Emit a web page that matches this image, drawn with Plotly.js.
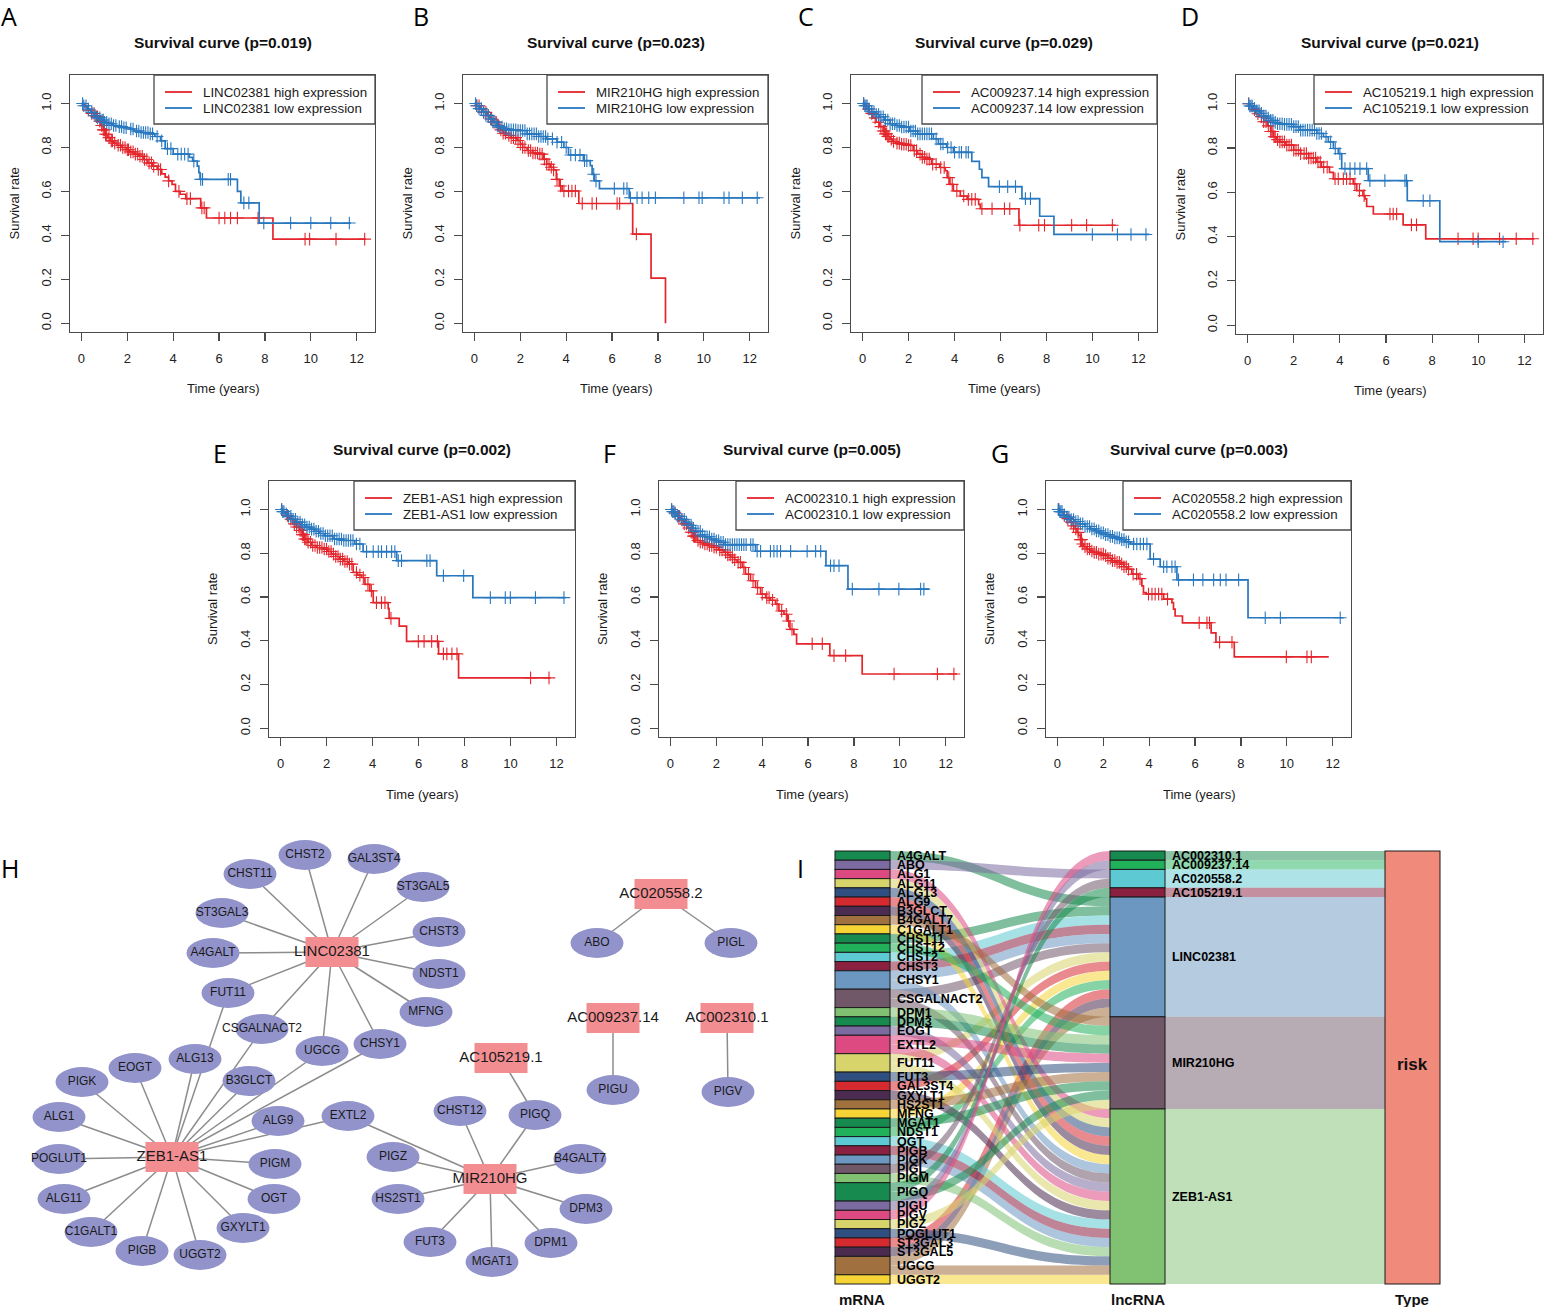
<!DOCTYPE html>
<html><head><meta charset="utf-8">
<script src="https://cdn.plot.ly/plotly-3.0.1.min.js"></script>
<style>html,body{margin:0;padding:0;background:#fff}#chart{width:1544px;height:1307px}</style>
</head><body><div id="chart"></div>
<script>
// ---------------- DATA ----------------
const panelGenes = ['LINC02381','MIR210HG','AC009237.14','AC105219.1','ZEB1-AS1','AC002310.1','AC020558.2'];
const panelPvalues = ['0.019','0.023','0.029','0.021','0.002','0.005','0.003'];
const panelLetters = ['A','B','C','D','E','F','G'];
const timeTicks = [0,2,4,6,8,10,12];
const rateTicks = [0,0.2,0.4,0.6,0.8,1.0];
const rateTickText = ['0.0','0.2','0.4','0.6','0.8','1.0'];

// A: LINC02381
const A_hiT = [0,.15,.3,.45,.6,.75,.85,.95,1.05,1.15,1.25,1.4,1.55,1.75,1.95,2.1,2.3,2.5,2.7,2.9,3.1,3.3,3.5,3.65,3.8,3.95,4.1,4.3,4.55,5.2,5.45,8.35,12.4];
const A_hiS = [1,.985,.97,.955,.94,.92,.9,.88,.86,.845,.83,.82,.81,.80,.79,.78,.77,.76,.745,.73,.715,.70,.68,.665,.648,.632,.60,.587,.567,.525,.479,.383,.383];
const A_hiC = [.3,.45,.55,.65,.7,.8,.88,.95,1.0,1.05,1.1,1.2,1.3,1.35,1.45,1.6,1.7,1.8,1.9,2.0,2.05,2.15,2.25,2.35,2.45,2.55,2.65,2.75,2.85,2.95,3.05,3.15,3.35,3.45,3.8,4.25,4.6,4.75,5.25,5.35,6.0,6.25,6.5,6.8,7.7,9.75,9.95,11.1,12.35];
const A_loT = [0,.1,.25,.4,.55,.7,.85,1.0,1.15,1.35,1.6,1.85,2.1,2.3,2.6,3.0,3.2,3.45,3.65,4.0,4.7,4.85,5.05,5.12,5.17,6.8,6.95,7.75,11.75];
const A_loS = [1,.99,.975,.96,.945,.935,.925,.915,.908,.9,.895,.89,.884,.875,.868,.862,.85,.83,.795,.77,.755,.738,.715,.686,.655,.60,.548,.456,.456];
const A_loC = [.05,.1,.2,.3,.45,.6,.7,.8,.9,.95,1.0,1.1,1.2,1.3,1.4,1.5,1.65,1.75,1.85,1.95,2.15,2.25,2.4,2.5,2.6,2.7,2.8,2.9,3.0,3.1,3.3,3.5,3.75,3.9,4.2,4.35,4.5,4.65,4.9,5.2,5.28,6.4,6.5,7.08,7.3,7.95,9.12,10.0,10.87,11.68];

// B: MIR210HG
const B_hiT = [0,.1,.25,.4,.55,.7,.85,1.0,1.12,1.25,1.4,1.6,1.85,2.0,2.1,2.3,2.55,2.85,3.0,3.15,3.3,3.45,3.57,3.7,3.82,4.55,6.9,7.7,8.33];
const B_hiS = [1,.99,.975,.96,.945,.93,.915,.9,.88,.865,.855,.845,.832,.815,.80,.786,.775,.77,.747,.724,.71,.698,.655,.625,.602,.545,.406,.205,0];
const B_hiC = [.1,.2,.3,.4,.5,.6,.75,.85,.95,1.05,1.15,1.25,1.35,1.5,1.6,1.7,1.8,1.9,2.0,2.1,2.2,2.35,2.45,2.55,2.65,2.75,2.85,2.95,3.05,3.15,3.25,3.35,3.45,3.6,3.75,3.9,4.1,4.25,4.4,4.7,5.13,5.32,6.22,6.33,7.06];
const B_loT = [0,.08,.2,.35,.5,.65,.8,.95,1.1,1.25,1.5,1.85,2.3,2.8,3.15,3.6,3.9,4.1,4.75,5.05,5.13,5.23,5.45,6.75,12.45];
const B_loS = [1,.99,.977,.962,.946,.93,.916,.9,.893,.885,.88,.877,.862,.85,.839,.824,.80,.766,.74,.717,.678,.648,.613,.571,.571];
const B_loC = [.05,.1,.2,.3,.4,.5,.6,.7,.8,.9,1.0,1.1,1.2,1.3,1.4,1.5,1.6,1.7,1.8,1.9,2.0,2.1,2.2,2.3,2.4,2.5,2.6,2.7,2.8,2.9,3.0,3.1,3.2,3.4,3.6,3.8,4.0,4.2,4.4,4.6,4.8,4.9,5.2,5.3,6.1,6.51,6.65,6.8,7.09,7.31,7.6,7.89,9.13,9.79,9.93,10.88,11.1,11.68,12.33];

// C: AC009237.14
const C_hiT = [0,.15,.3,.45,.6,.75,.9,1.0,1.1,1.2,1.3,1.45,1.7,2.0,2.2,2.4,2.6,2.75,3.0,3.35,3.6,3.68,3.8,3.95,4.25,4.55,5.05,5.12,6.8,11.0];
const C_hiS = [1,.975,.955,.935,.915,.895,.875,.862,.85,.838,.828,.82,.815,.809,.786,.77,.755,.747,.724,.709,.694,.663,.632,.602,.579,.564,.541,.521,.446,.446];
const C_hiC = [.05,.25,.4,.55,.7,.8,.9,.95,1.0,1.05,1.1,1.15,1.25,1.35,1.5,1.6,1.7,1.8,1.9,2.0,2.1,2.25,2.35,2.5,2.6,2.7,2.8,2.9,3.05,3.2,3.4,3.55,3.75,3.9,4.1,4.4,4.6,4.75,4.9,5.19,5.63,6.17,6.4,6.84,7.66,7.91,9.09,9.74,10.86];
const C_loT = [0,.1,.25,.4,.55,.75,.95,1.2,1.45,1.65,2.05,2.4,3.08,3.3,3.65,3.95,4.75,5.08,5.19,5.48,6.93,7.7,8.32,12.47];
const C_loS = [1,.99,.975,.962,.95,.94,.925,.908,.9,.893,.875,.862,.839,.816,.80,.778,.737,.701,.663,.622,.567,.487,.404,.404];
const C_loC = [.05,.1,.15,.2,.3,.4,.5,.6,.7,.8,.9,1.0,1.1,1.2,1.3,1.4,1.5,1.6,1.7,1.8,1.9,2.0,2.1,2.2,2.3,2.4,2.5,2.6,2.7,2.8,2.9,3.0,3.2,3.4,3.5,3.7,3.85,4.0,4.2,4.3,4.5,4.6,5.95,6.31,6.65,7.08,7.3,9.99,11.08,11.67,12.32];

// D: AC105219.1
const D_hiT = [0,.1,.2,.35,.5,.7,.85,1.0,1.12,1.25,1.4,1.65,2.0,2.3,2.65,3.0,3.2,3.55,3.72,4.58,4.73,5.0,5.09,5.16,5.45,6.74,7.72,12.43];
const D_hiS = [1,.99,.973,.955,.942,.919,.9,.875,.851,.838,.828,.813,.79,.775,.755,.737,.714,.69,.661,.638,.608,.585,.57,.536,.502,.453,.39,.39];
const D_hiC = [.05,.3,.45,.6,.7,.8,.9,1.0,1.05,1.1,1.15,1.2,1.3,1.4,1.5,1.6,1.7,1.8,1.9,2.0,2.1,2.2,2.3,2.45,2.55,2.65,2.75,2.85,2.95,3.05,3.15,3.3,3.45,3.79,3.93,4.15,4.29,4.44,4.65,4.85,5.05,6.17,6.31,6.46,7.1,7.32,9.12,9.77,9.99,10.92,11.64,12.36];
const D_loT = [0,.1,.26,.4,.55,.7,.84,1.0,1.12,1.3,1.56,1.99,2.28,3.0,3.29,3.5,3.72,3.93,4.08,5.23,6.92,8.33,11.2];
const D_loS = [1,.99,.98,.968,.957,.945,.935,.925,.916,.91,.907,.897,.881,.866,.851,.828,.798,.775,.707,.653,.562,.377,.377];
const D_loC = [.05,.1,.15,.2,.3,.4,.5,.6,.7,.8,.9,1.0,1.1,1.2,1.3,1.4,1.5,1.6,1.7,1.8,1.9,2.0,2.1,2.2,2.3,2.4,2.5,2.6,2.7,2.8,2.9,3.0,3.1,3.2,3.4,3.6,3.8,4.0,4.22,4.44,4.65,4.87,5.16,5.3,5.95,6.82,6.89,7.61,7.9,9.99,11.07];

// E: ZEB1-AS1
const E_hiT = [0,.12,.25,.4,.54,.68,.83,.95,1.05,1.2,1.34,1.55,1.85,2.05,2.21,2.4,2.57,2.75,2.94,3.16,3.35,3.52,3.67,3.88,4.03,4.68,4.72,5.16,5.48,6.87,7.74,11.74];
const E_hiS = [1,.985,.972,.955,.934,.92,.904,.885,.865,.85,.835,.826,.819,.808,.796,.785,.773,.762,.75,.712,.70,.689,.658,.628,.574,.547,.502,.467,.397,.34,.23,.23];
const E_hiC = [.05,.3,.45,.6,.7,.8,.85,.9,.95,1.0,1.05,1.1,1.15,1.2,1.3,1.4,1.5,1.6,1.7,1.8,1.9,2.0,2.1,2.2,2.3,2.4,2.5,2.6,2.7,2.8,2.9,3.0,3.1,3.3,3.45,3.6,3.8,3.95,4.17,4.39,4.54,4.8,5.99,6.24,6.57,6.82,7.08,7.23,7.45,7.67,10.87,11.67];
const E_loT = [0,.1,.2,.32,.5,.68,.9,1.12,1.3,1.48,1.7,1.92,2.28,2.72,3.23,3.59,5.05,6.79,8.36,12.39];
const E_loS = [1,.99,.98,.969,.955,.942,.93,.919,.91,.9,.89,.88,.865,.858,.842,.807,.766,.697,.597,.597];
const E_loC = [.05,.1,.15,.25,.35,.45,.55,.65,.75,.85,.95,1.05,1.15,1.25,1.35,1.45,1.55,1.65,1.75,1.85,1.95,2.05,2.15,2.25,2.35,2.45,2.55,2.65,2.75,2.85,2.95,3.05,3.15,3.3,3.45,3.74,4.03,4.25,4.39,4.61,4.83,4.97,5.12,5.26,6.36,6.5,7.08,7.96,9.12,9.77,9.99,11.08,12.32];

// F: AC002310.1
const F_hiT = [0,.1,.22,.4,.58,.72,.87,1.0,1.16,1.3,1.45,1.65,1.89,2.1,2.33,2.5,2.62,2.8,2.91,3.13,3.27,3.49,3.71,3.93,4.15,4.35,4.58,4.73,4.95,5.09,5.21,5.38,5.5,6.95,8.36,12.5];
const F_hiS = [1,.985,.969,.952,.934,.915,.896,.878,.858,.85,.842,.835,.827,.815,.804,.792,.781,.77,.758,.735,.704,.674,.643,.613,.597,.585,.567,.536,.521,.49,.452,.429,.386,.332,.248,.248];
const F_hiC = [.05,.2,.35,.5,.6,.7,.8,.9,.95,1.0,1.05,1.1,1.2,1.3,1.4,1.5,1.6,1.7,1.8,1.9,2.0,2.15,2.25,2.4,2.5,2.6,2.7,2.8,2.95,3.05,3.2,3.4,3.6,3.8,4.0,4.2,4.3,4.45,4.65,4.85,5.05,5.15,5.3,6.18,6.62,7.13,7.64,9.75,11.64,12.36];
const F_loT = [0,.1,.18,.29,.45,.65,.8,.95,1.1,1.31,1.5,1.75,1.95,2.11,2.33,3.71,6.78,7.74,11.27];
const F_loS = [1,.99,.98,.969,.955,.942,.928,.914,.9,.884,.875,.865,.857,.85,.839,.809,.743,.636,.636];
const F_loC = [.05,.1,.15,.2,.3,.4,.5,.6,.7,.8,.9,1.0,1.1,1.2,1.3,1.4,1.5,1.6,1.7,1.8,1.9,2.0,2.1,2.2,2.3,2.4,2.5,2.6,2.7,2.8,2.9,3.0,3.1,3.2,3.3,3.5,3.6,3.78,3.93,4.36,4.51,4.65,4.8,5.24,5.96,6.33,6.55,6.98,7.13,7.35,7.93,9.09,9.96,10.91,11.05];

// G: AC020558.2
const G_hiT = [0,.1,.26,.4,.55,.68,.77,.85,.92,1.0,1.06,1.15,1.28,1.45,1.57,1.8,2.01,2.2,2.37,2.55,2.73,2.9,3.03,3.24,3.53,3.68,3.75,3.87,4.63,4.99,5.06,5.13,5.45,6.7,6.91,7.71,11.83];
const G_hiS = [1,.99,.972,.958,.942,.925,.911,.895,.881,.862,.842,.83,.819,.81,.804,.796,.789,.777,.766,.758,.75,.738,.727,.704,.684,.651,.62,.613,.59,.574,.544,.513,.482,.436,.393,.326,.326];
const G_hiC = [.05,.3,.45,.6,.7,.8,.9,1.0,1.05,1.1,1.2,1.3,1.4,1.5,1.6,1.7,1.8,1.9,2.0,2.1,2.2,2.3,2.4,2.5,2.6,2.7,2.8,2.9,3.0,3.1,3.3,3.45,3.6,3.97,4.12,4.26,4.41,4.55,4.8,6.18,6.52,6.63,7.07,7.61,9.98,10.88,11.07];
const G_loT = [0,.1,.26,.4,.55,.75,.99,1.2,1.43,1.65,1.86,2.1,2.3,2.5,2.73,2.95,3.17,4.04,4.48,5.21,8.31,12.48];
const G_loS = [1,.99,.975,.965,.954,.945,.934,.922,.911,.902,.893,.885,.877,.87,.862,.852,.842,.773,.738,.678,.505,.505];
const G_loC = [.03,.06,.1,.15,.2,.3,.4,.5,.6,.7,.8,.9,1.0,1.1,1.2,1.3,1.4,1.5,1.6,1.7,1.8,1.9,2.0,2.1,2.2,2.3,2.4,2.5,2.6,2.7,2.8,2.9,3.0,3.1,3.32,3.46,3.61,3.75,3.9,4.19,4.63,4.77,4.99,5.13,5.28,5.93,6.34,6.81,7.1,7.35,7.9,9.06,9.72,12.33];

// Network (H)
const lncNames = ['AC002310.1','AC009237.14','AC020558.2','AC105219.1','LINC02381','MIR210HG','ZEB1-AS1'];
const mrnaNames = ['A4GALT','ABO','ALG1','ALG11','ALG13','ALG9','B3GLCT','B4GALT7','C1GALT1','CHST11','CHST12','CHST2','CHST3','CHSY1','CSGALNACT2','DPM1','DPM3','EOGT','EXTL2','FUT11','FUT3','GAL3ST4','GXYLT1','HS2ST1','MFNG','MGAT1','NDST1','OGT','PIGB','PIGK','PIGL','PIGM','PIGQ','PIGU','PIGV','PIGZ','POGLUT1','ST3GAL3','ST3GAL5','UGCG','UGGT2'];
const edgeLnc  = ['LINC02381','LINC02381','LINC02381','LINC02381','LINC02381','LINC02381','LINC02381','LINC02381','LINC02381','LINC02381','LINC02381','LINC02381','LINC02381',
  'ZEB1-AS1','ZEB1-AS1','ZEB1-AS1','ZEB1-AS1','ZEB1-AS1','ZEB1-AS1','ZEB1-AS1','ZEB1-AS1','ZEB1-AS1','ZEB1-AS1','ZEB1-AS1','ZEB1-AS1','ZEB1-AS1','ZEB1-AS1','ZEB1-AS1','ZEB1-AS1','ZEB1-AS1','ZEB1-AS1','ZEB1-AS1',
  'MIR210HG','MIR210HG','MIR210HG','MIR210HG','MIR210HG','MIR210HG','MIR210HG','MIR210HG','MIR210HG','MIR210HG',
  'AC105219.1','AC020558.2','AC020558.2','AC009237.14','AC002310.1'];
const edgeMrna = ['CHST11','CHST2','GAL3ST4','ST3GAL5','ST3GAL3','CHST3','A4GALT','NDST1','FUT11','MFNG','CSGALNACT2','UGCG','CHSY1',
  'PIGK','EOGT','ALG1','POGLUT1','ALG11','C1GALT1','PIGB','UGGT2','GXYLT1','OGT','PIGM','ALG9','EXTL2','CHSY1','UGCG','B3GLCT','CSGALNACT2','ALG13','FUT11',
  'EXTL2','PIGZ','HS2ST1','FUT3','MGAT1','DPM1','DPM3','B4GALT7','PIGQ','CHST12',
  'PIGQ','ABO','PIGL','PIGU','PIGV'];
// network layout coordinates (layout positions of the drawn graph)
const netNames = ['LINC02381','ZEB1-AS1','MIR210HG','AC105219.1','AC020558.2','AC009237.14','AC002310.1',
  'CHST2','GAL3ST4','CHST11','ST3GAL5','ST3GAL3','CHST3','A4GALT','NDST1','FUT11','MFNG','CSGALNACT2','UGCG','CHSY1',
  'ALG13','EOGT','B3GLCT','PIGK','ALG1','ALG9','EXTL2','POGLUT1','PIGM','OGT','ALG11','GXYLT1','C1GALT1','PIGB','UGGT2',
  'CHST12','PIGQ','PIGZ','B4GALT7','HS2ST1','DPM3','FUT3','DPM1','MGAT1','ABO','PIGL','PIGU','PIGV'];
const netX = [332,172,490,501,661,613,727,
  305,374,250,423,222,439,213,439,228,426,262,322,380,
  195,135,249,82,59,278,348,59,275,274,64,243,91,142,200,
  460,535,393,580,398,586,430,551,492,597,731,613,728];
const netY = [952,1157,1179,1058,894,1018,1018,
  855,859,874,887,913,932,953,974,993,1012,1029,1051,1044,
  1059,1068,1081,1082,1117,1121,1116,1159,1164,1199,1199,1228,1232,1251,1255,
  1111,1115,1157,1159,1199,1209,1242,1243,1262,943,943,1090,1092];

// Sankey colours
const palette16 = ['#178a4f','#7b6ba1','#dd4a82','#d8d46c','#2f4f80','#d62a31','#4b2b50','#a0703f','#f6d436','#178a4f','#22b15b','#5dc9d2','#8a2141','#6b97c1','#705869','#80c172'];
const lncColors = ['#178a4f','#22b15b','#5dc9d2','#8a2141','#6b97c1','#705869','#80c172'];
const riskColor = '#f08a7a';

// ---------------- DRAWING ----------------
const W = 1544, H = 1307;
const px = x => x / W, py = y => 1 - y / H;
const RED = '#e4262c', BLUE = '#2878c0';
const FONT = 'Liberation Sans, Arial, sans-serif';
const LETTER_FONT = {family:'Open Sans, Liberation Sans, sans-serif', size:25, color:'#000'};

const panels = [
  {hiT:A_hiT,hiS:A_hiS,hiC:A_hiC,loT:A_loT,loS:A_loS,loC:A_loC, box:[70,375,75,332], legW:221, letter:[9,16]},
  {hiT:B_hiT,hiS:B_hiS,hiC:B_hiC,loT:B_loT,loS:B_loS,loC:B_loC, box:[463,768,75,332], legW:221, letter:[421,16]},
  {hiT:C_hiT,hiS:C_hiS,hiC:C_hiC,loT:C_loT,loS:C_loS,loC:C_loC, box:[851,1157,75,332], legW:235, letter:[806,16]},
  {hiT:D_hiT,hiS:D_hiS,hiC:D_hiC,loT:D_loT,loS:D_loS,loC:D_loC, box:[1236,1543,75,334], legW:229, letter:[1190,16]},
  {hiT:E_hiT,hiS:E_hiS,hiC:E_hiC,loT:E_loT,loS:E_loS,loC:E_loC, box:[269,575,481,737], legW:221, letter:[220,453]},
  {hiT:F_hiT,hiS:F_hiS,hiC:F_hiC,loT:F_loT,loS:F_loS,loC:F_loC, box:[659,964,481,737], legW:228, letter:[609,453]},
  {hiT:G_hiT,hiS:G_hiS,hiC:G_hiC,loT:G_loT,loS:G_loS,loC:G_loC, box:[1046,1351,481,737], legW:228, letter:[1000,453]}
];

function stepAt(T, S, t) { let v = S[0]; for (let i = 0; i < T.length; i++) { if (T[i] <= t) v = S[i]; else break; } return v; }

const data = [], shapes = [], annotations = [];
const layout = {
  width: W, height: H, margin: {l:0, r:0, t:0, b:0}, paper_bgcolor: '#fff', plot_bgcolor: '#fff',
  showlegend: false, font: {family: FONT, color: '#222'}, shapes: shapes, annotations: annotations, hovermode: false
};
function ann(x, y, text, size, opts) {
  annotations.push(Object.assign({xref:'paper', yref:'paper', x:px(x), y:py(y), text:text, showarrow:false,
    font:{family:FONT, size:size, color:'#1a1a1a'}, xanchor:'center', yanchor:'middle'}, opts || {}));
}

panels.forEach((p, i) => {
  const n = i === 0 ? '' : String(i + 1);
  const xa = 'x' + n, ya = 'y' + n;
  [[p.hiT, p.hiS, p.hiC, RED], [p.loT, p.loS, p.loC, BLUE]].forEach(([T, S, C, col]) => {
    data.push({type:'scatter', mode:'lines', x:T, y:S, xaxis:xa, yaxis:ya, line:{shape:'hv', color:col, width:1.7}, hoverinfo:'skip'});
    data.push({type:'scatter', mode:'markers', x:C, y:C.map(t => stepAt(T, S, t)), xaxis:xa, yaxis:ya,
      marker:{symbol:'cross-thin', size:9, color:col, line:{color:col, width:1.1}}, hoverinfo:'skip'});
  });
  const [l, r, t, b] = p.box;
  const axBase = {showgrid:false, zeroline:false, showline:true, mirror:true, linecolor:'#4a4a4a', linewidth:1.3,
    ticks:'outside', ticklen:8, tickwidth:1.2, tickcolor:'#4a4a4a', fixedrange:true,
    tickfont:{family:FONT, size:13, color:'#222'}};
  layout['xaxis' + n] = Object.assign({}, axBase, {domain:[px(l), px(r)], range:[-0.5, 12.8], anchor:ya,
    tickmode:'array', tickvals:timeTicks, ticktext:timeTicks.map(String), ticklabelstandoff:6});
  layout['yaxis' + n] = Object.assign({}, axBase, {domain:[py(b), py(t)], range:[-0.04, 1.13], anchor:xa,
    tickmode:'array', tickvals:rateTicks, ticktext:rateTickText, tickangle:-90, ticklabelstandoff:5});
  const cx = (l + r) / 2;
  ann(cx, t - 32, '<b>Survival curve (p=' + panelPvalues[i] + ')</b>', 15.5, {font:{family:FONT, size:15.5, color:'#111'}});
  ann(cx, b + 57, 'Time (years)', 13);
  ann(l - 56, (t + b) / 2, 'Survival rate', 13, {textangle:-90});
  ann(p.letter[0], p.letter[1], panelLetters[i], 25, {font:LETTER_FONT});
  // legend box
  const ll = r - p.legW;
  shapes.push({type:'rect', xref:'paper', yref:'paper', x0:px(ll), x1:px(r), y0:py(t + 49), y1:py(t), line:{color:'#4a4a4a', width:1.3}, fillcolor:'#fff', layer:'above'});
  [[RED, 'high expression', 17], [BLUE, 'low expression', 33]].forEach(([col, lab, dy]) => {
    shapes.push({type:'line', xref:'paper', yref:'paper', x0:px(ll + 11), x1:px(ll + 38), y0:py(t + dy), y1:py(t + dy), line:{color:col, width:1.8}, layer:'above'});
    ann(ll + 47, t + dy, panelGenes[i] + ' ' + lab, 13.3, {xanchor:'left'});
  });
});

// ---- Network H ----
layout.xaxis8 = {domain:[0, px(800)], range:[0, 800], visible:false, fixedrange:true, anchor:'y8'};
layout.yaxis8 = {domain:[0, py(830)], range:[H, 830], visible:false, fixedrange:true, anchor:'x8'};
const nodeIdx = name => netNames.indexOf(name);
edgeLnc.forEach((lnc, k) => {
  const a = nodeIdx(lnc), b = nodeIdx(edgeMrna[k]);
  shapes.push({type:'line', xref:'x8', yref:'y8', x0:netX[a], y0:netY[a], x1:netX[b], y1:netY[b], line:{color:'#8c8c8c', width:1.5}, layer:'below'});
});
netNames.forEach((name, k) => {
  const isLnc = lncNames.includes(name);
  shapes.push({type: isLnc ? 'rect' : 'circle', xref:'x8', yref:'y8',
    x0:netX[k] - 26.5, x1:netX[k] + 26.5, y0:netY[k] - 15, y1:netY[k] + 15,
    fillcolor: isLnc ? '#f28e92' : '#9293cb', line:{width:0}, layer:'below'});
});
data.push({type:'scatter', mode:'text', x:netX, y:netY, text:netNames, xaxis:'x8', yaxis:'y8', hoverinfo:'skip',
  textfont:{family:FONT, size:netNames.map(nm => lncNames.includes(nm) ? 15 : 12), color:'#1a1a1a'}});
ann(10, 868, 'H', 25, {font:LETTER_FONT});

// ---- Sankey I ----
function rgba(hex, a) { const v = parseInt(hex.slice(1), 16); return 'rgba(' + (v >> 16 & 255) + ',' + (v >> 8 & 255) + ',' + (v & 255) + ',' + a + ')'; }
const mDeg = mrnaNames.map(m => edgeMrna.filter(x => x === m).length);
const lDeg = lncNames.map(l => edgeLnc.filter(x => x === l).length);
const total = edgeLnc.length;
function centers(deg) { let c = 0; return deg.map(d => { const y = (c + d / 2) / total; c += d; return y; }); }
const NB = '\u00a0';
const nodeLabels = mrnaNames.map(m => NB + m).concat(lncNames.map(l => NB + l), ['']);
const nodeColors = mrnaNames.map((m, k) => palette16[k % 16]).concat(lncColors, [riskColor]);
const nodeXs = mrnaNames.map(() => 0.04545).concat(lncNames.map(() => 0.5), [0.95455]);
const nodeYs = centers(mDeg).concat(centers(lDeg), [0.5]);
const src = [], tgt = [], val = [], lcol = [];
edgeLnc.forEach((lnc, k) => {
  const mi = mrnaNames.indexOf(edgeMrna[k]), li = lncNames.indexOf(lnc);
  src.push(mi); tgt.push(mrnaNames.length + li); val.push(1); lcol.push(rgba(palette16[mi % 16], 0.55));
});
lncNames.forEach((l, li) => {
  src.push(mrnaNames.length + li); tgt.push(mrnaNames.length + lncNames.length); val.push(lDeg[li]); lcol.push(rgba(lncColors[li], 0.5));
});
data.push({type:'sankey', arrangement:'fixed', hoverinfo:'none',
  domain:{x:[px(835), px(1440)], y:[py(1284), py(851)]},
  node:{label:nodeLabels, color:nodeColors, pad:0, thickness:55, line:{color:'#1a1a1a', width:1}, x:nodeXs, y:nodeYs, hoverinfo:'none'},
  link:{source:src, target:tgt, value:val, color:lcol, hoverinfo:'none'},
  textfont:{family:FONT, size:12.5, color:'#000', weight:'bold', shadow:'none'}});
ann(801, 868, 'I', 25, {font:LETTER_FONT});
ann(1412, 1064, '<b>risk</b>', 17, {font:{family:FONT, size:17, color:'#111'}});
ann(862, 1299, '<b>mRNA</b>', 15, {font:{family:FONT, size:15, color:'#111'}});
ann(1138, 1299, '<b>lncRNA</b>', 15, {font:{family:FONT, size:15, color:'#111'}});
ann(1412, 1299, '<b>Type</b>', 15, {font:{family:FONT, size:15, color:'#111'}});

Plotly.newPlot('chart', data, layout, {staticPlot:true, displayModeBar:false});
</script>
</body></html>
